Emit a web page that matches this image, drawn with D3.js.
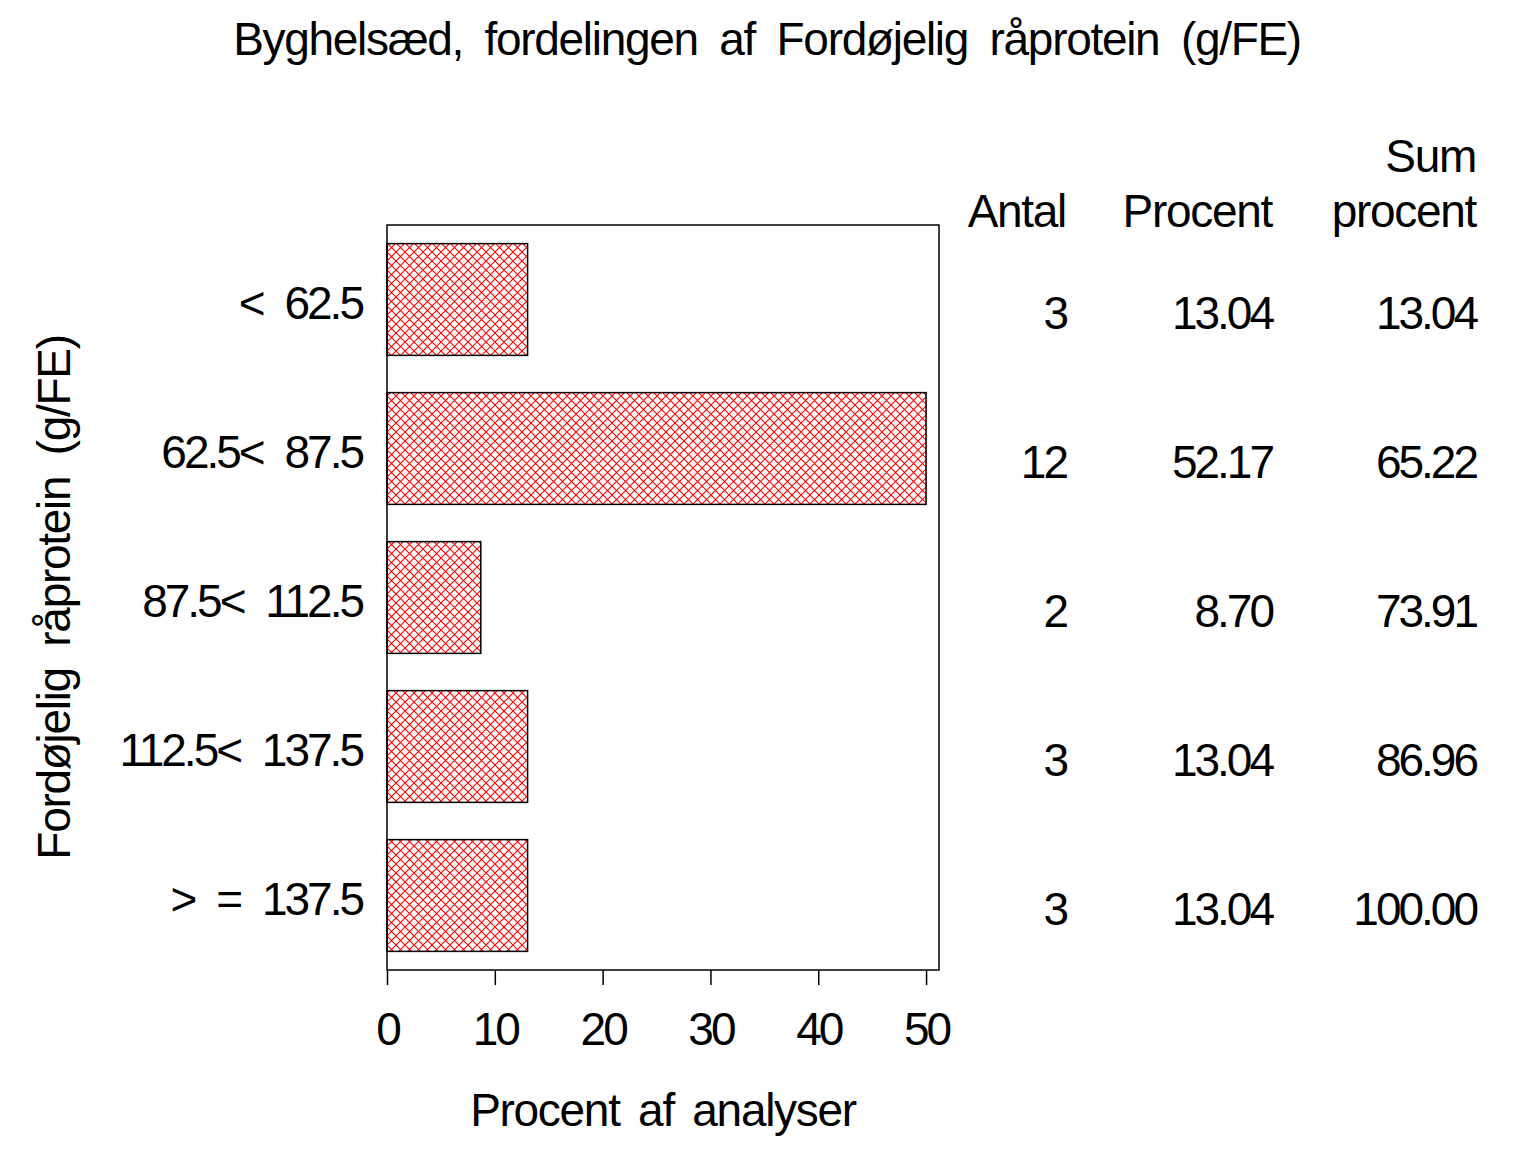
<!DOCTYPE html>
<html lang="da">
<head>
  <meta charset="UTF-8" />
  <title>Byghelsæd, fordelingen af Fordøjelig råprotein</title>
  <script src="https://d3js.org/d3.v7.min.js"></script>
  <style>
    body { margin: 0; background: #fff; }
    svg { display: block; }
    text {
      font-family: "Liberation Sans", Arial, sans-serif;
      font-size: 46px;
      letter-spacing: -1.3px;
      word-spacing: 10px;
      fill: #000;
    }
    .num { letter-spacing: -3px; word-spacing: 12px; }
  </style>
</head>
<body>
  <svg width="1536" height="1152"></svg>

  <script>
    const categories = ["< 62.5", "62.5< 87.5", "87.5< 112.5", "112.5< 137.5", "> = 137.5"];
    const antal = [3, 12, 2, 3, 3];
    const procent = [13.04, 52.17, 8.70, 13.04, 13.04];
    const sumProcent = [13.04, 65.22, 73.91, 86.96, 100.00];
    const xTicks = [0, 10, 20, 30, 40, 50];
    const tableHeads = [["Antal"], ["Procent"], ["Sum", "procent"]];

    const svg = d3.select("svg");
    const plot = { left: 387, right: 939, top: 225, bottom: 970 };

    const x = d3.scaleLinear().domain([0, 51.2]).range([plot.left, plot.right]);
    const y = d3.scaleBand()
      .domain(categories)
      .range([plot.top, plot.bottom])
      .paddingInner(0.25)
      .paddingOuter(0.125);

    // red crosshatch fill
    const pat = svg.append("defs").append("pattern")
      .attr("id", "hatch")
      .attr("patternUnits", "userSpaceOnUse")
      .attr("width", 9)
      .attr("height", 9);
    pat.append("path")
      .attr("d", "M0,0L9,9M9,0L0,9")
      .attr("stroke", "#ff0000")
      .attr("stroke-width", 1.1)
      .attr("fill", "none");

    svg.append("text")
      .attr("x", 767)
      .attr("y", 55)
      .attr("text-anchor", "middle")
      .text("Byghelsæd, fordelingen af Fordøjelig råprotein (g/FE)");

    // frame
    svg.append("rect")
      .attr("x", plot.left)
      .attr("y", plot.top)
      .attr("width", plot.right - plot.left)
      .attr("height", plot.bottom - plot.top)
      .attr("fill", "none")
      .attr("stroke", "#000")
      .attr("stroke-width", 1.5);

    // bars are clipped at the last tick like the original
    const xMax = d3.max(xTicks);
    svg.selectAll(".bar")
      .data(procent)
      .enter()
      .append("rect")
      .attr("class", "bar")
      .attr("x", x(0))
      .attr("y", (d, i) => y(categories[i]))
      .attr("width", d => x(Math.min(d, xMax)) - x(0))
      .attr("height", y.bandwidth())
      .attr("fill", "url(#hatch)")
      .attr("stroke", "#000")
      .attr("stroke-width", 1.5);

    const xAxis = d3.axisBottom(x)
      .tickValues(xTicks)
      .tickSize(15)
      .tickFormat(d3.format("d"));

    const gx = svg.append("g")
      .attr("transform", `translate(0,${plot.bottom})`)
      .call(xAxis);
    gx.select(".domain").remove();
    gx.selectAll("line").attr("stroke-width", 1.5);
    gx.selectAll("text")
      .attr("class", "num")
      .attr("dy", null)
      .attr("y", 75)
      .style("font-size", "46px")
      .style("font-family", "\"Liberation Sans\", Arial, sans-serif");

    svg.append("text")
      .attr("x", (plot.left + plot.right) / 2)
      .attr("y", 1126)
      .attr("text-anchor", "middle")
      .style("word-spacing", "7px")
      .text("Procent af analyser");

    // category labels
    svg.selectAll(".cat")
      .data(categories)
      .enter()
      .append("text")
      .attr("class", "cat num")
      .attr("x", 362)
      .attr("y", d => y(d) + y.bandwidth() / 2 + 19)
      .attr("text-anchor", "end")
      .text(d => d);

    svg.append("text")
      .attr("transform", `translate(70,${(plot.top + plot.bottom) / 2}) rotate(-90)`)
      .attr("text-anchor", "middle")
      .text("Fordøjelig råprotein (g/FE)");

    // table at the right
    const colX = [1066, 1272, 1476];
    const cols = [antal, procent.map(d => d.toFixed(2)), sumProcent.map(d => d.toFixed(2))];

    tableHeads.forEach((lines, c) => {
      lines.forEach((t, k) => {
        svg.append("text")
          .attr("x", colX[c])
          .attr("y", 227 - (lines.length - 1 - k) * 55)
          .attr("text-anchor", "end")
          .text(t);
      });
    });

    cols.forEach((vals, c) => {
      svg.selectAll(".col" + c)
        .data(vals)
        .enter()
        .append("text")
        .attr("class", "num col" + c)
        .attr("x", colX[c])
        .attr("y", (d, i) => y(categories[i]) + y.bandwidth() / 2 + 29)
        .attr("text-anchor", "end")
        .text(d => d);
    });
  </script>
</body>
</html>
